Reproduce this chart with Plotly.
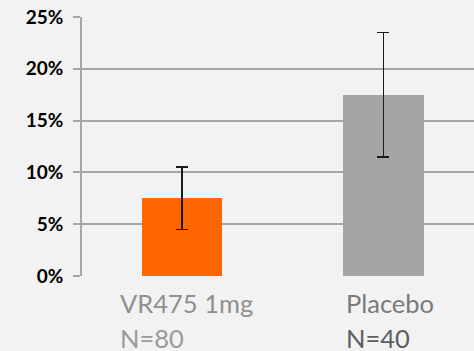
import plotly.graph_objects as go

categories = ["VR475 1mg", "Placebo"]
n_labels = ["N=80", "N=40"]
values = [7.5, 17.5]
err_plus = [3.0, 6.0]
err_minus = [3.0, 6.0]
bar_colors = ["#ff6600", "#a5a5a5"]
y_ticks = [0, 5, 10, 15, 20, 25]
y_tick_labels = ["0%", "5%", "10%", "15%", "20%", "25%"]

x_pos = list(range(len(categories)))

fig = go.Figure()
fig.add_trace(go.Bar(
    x=x_pos, y=values, width=0.40,
    marker=dict(color=bar_colors, line=dict(width=0)),
    error_y=dict(type="data", array=err_plus, arrayminus=err_minus,
                 color="#1a1a1a", thickness=1.5, width=6, visible=True),
    showlegend=False, hoverinfo="skip",
))

label_font = "Lato, 'Open Sans', sans-serif"
line1_colors = ["#8f8f8f", "#7a7a7a"]
line2_colors = ["#9a9a9a", "#5e5e5e"]
xshifts = [-64, -39]
for i in range(len(categories)):
    fig.add_annotation(x=x_pos[i], y=0, xref="x", yref="paper", text=categories[i],
                       showarrow=False, xanchor="left", yanchor="top", xshift=xshifts[i], yshift=-10,
                       font=dict(family=label_font, size=25.5, color=line1_colors[i]))
    fig.add_annotation(x=x_pos[i], y=0, xref="x", yref="paper", text=n_labels[i],
                       showarrow=False, xanchor="left", yanchor="top", xshift=xshifts[i], yshift=-45,
                       font=dict(family=label_font, size=25.5, color=line2_colors[i]))

fig.update_layout(
    width=474, height=351,
    margin=dict(l=82, r=0, t=17, b=75, autoexpand=False),
    paper_bgcolor="#f2f2f2", plot_bgcolor="#f2f2f2",
    bargap=0,
    xaxis=dict(range=[-0.4975, 1.45], showticklabels=False, showgrid=False, automargin=False,
               zeroline=False, showline=False, ticks="", fixedrange=True),
    yaxis=dict(range=[0, 25], tickvals=y_ticks, ticktext=y_tick_labels, automargin=False,
               showgrid=True, gridcolor="#a6a6a6", gridwidth=1.5,
               zeroline=False, showline=True, linecolor="#a6a6a6", linewidth=1.5,
               ticks="outside", ticklen=7, tickcolor="#a6a6a6", tickwidth=1.5,
               ticklabelstandoff=6,
               tickfont=dict(family="Lato, 'Open Sans', sans-serif", size=19, color="#000000", weight="bold"),
               fixedrange=True),
)
fig.write_html("out.html", config={"displayModeBar": False},
               post_script="document.body.style.margin='0';")
